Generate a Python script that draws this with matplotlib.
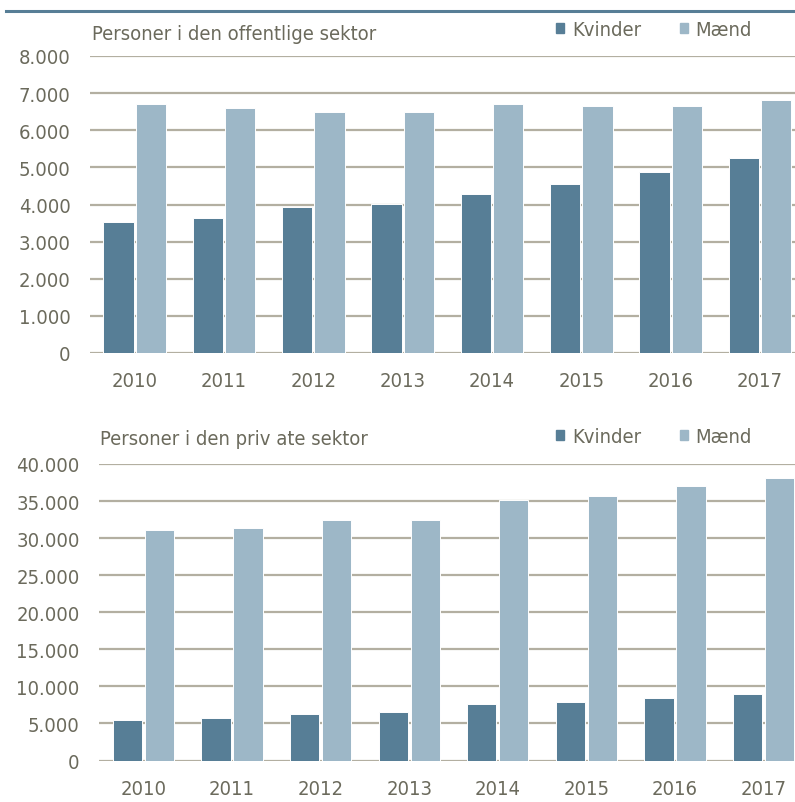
#!/usr/bin/env python

import numpy as np
import matplotlib
matplotlib.use('Agg')
import matplotlib.pyplot as plt
from matplotlib.patches import Patch
from matplotlib.ticker import FuncFormatter

years = ['2010', '2011', '2012', '2013', '2014', '2015', '2016', '2017']

offentlig_kvinder = [3530, 3640, 3920, 4020, 4290, 4560, 4880, 5240]
offentlig_maend = [6700, 6600, 6490, 6490, 6700, 6650, 6650, 6810]

privat_kvinder = [5400, 5680, 6220, 6500, 7580, 7850, 8400, 8940]
privat_maend = [31130, 31390, 32430, 32430, 35140, 35650, 37040, 38150]

c_kvinder = '#577e96'
c_maend = '#9db7c7'
c_text = '#6b6a5c'
c_grid = '#b3afa1'
fs = 14.5

plt.rcParams['font.family'] = ['DejaVu Sans']
plt.rcParams['font.stretch'] = 'condensed'
plt.rcParams['font.size'] = fs

fmt = FuncFormatter(lambda v, p: f"{v:,.0f}".replace(',', '.'))

fig = plt.figure(figsize=(7.95, 8.03), dpi=100)

# blue rule at the top of the figure
fig.add_artist(plt.Line2D([6/795, 1.0], [1-12/803, 1-12/803], color=c_kvinder, lw=2.2))


def panel(rect, kv, ma, ymax, step, bw):
    ax = fig.add_axes(rect)
    x = np.arange(len(years))
    ax.bar(x - 0.18, kv, bw, color=c_kvinder, edgecolor='white', lw=0.7, zorder=3)
    ax.bar(x + 0.18, ma, bw, color=c_maend, edgecolor='white', lw=0.7, zorder=3)
    ax.set_xlim(-0.5, len(years) - 0.5)
    ax.set_ylim(0, ymax)
    ax.set_yticks(np.arange(0, ymax + 1, step))
    ax.yaxis.set_major_formatter(fmt)
    ax.set_xticks(x)
    ax.set_xticklabels(years)
    ax.grid(axis='y', color=c_grid, lw=1.6, zorder=0)
    ax.set_axisbelow(True)
    for s in ax.spines.values():
        s.set_visible(False)
    ax.tick_params(axis='both', length=0, colors=c_text, labelsize=fs)
    ax.tick_params(axis='y', pad=14)
    ax.tick_params(axis='x', pad=13)
    return ax


ax1 = panel([90/795, 1-354/803, 714.6/795, 297/803], offentlig_kvinder, offentlig_maend,
            8000, 1000, 0.34)
ax2 = panel([99/795, 1-761.5/803, 709/795, 296.5/803], privat_kvinder, privat_maend,
            40000, 5000, 0.33)

fig.text(92/795, 1-34/803, 'Personer i den offentlige sektor', color=c_text,
         fontsize=fs, va='center', ha='left')
fig.text(100/795, 1-440/803, 'Personer i den priv ate sektor', color=c_text,
         fontsize=fs, va='center', ha='left')

handles = [Patch(color=c_kvinder, label='Kvinder'), Patch(color=c_maend, label='Mænd')]
for ypos in [31, 438]:
    leg = fig.legend(handles=handles, loc='center left', bbox_to_anchor=(556/795, 1-ypos/803),
                     ncol=2, frameon=False, fontsize=fs, handlelength=0.4, handleheight=0.4,
                     handletextpad=0.4, columnspacing=1.9, borderpad=0, borderaxespad=0)
    for t in leg.get_texts():
        t.set_color(c_text)

plt.savefig('out.png', dpi=100)
